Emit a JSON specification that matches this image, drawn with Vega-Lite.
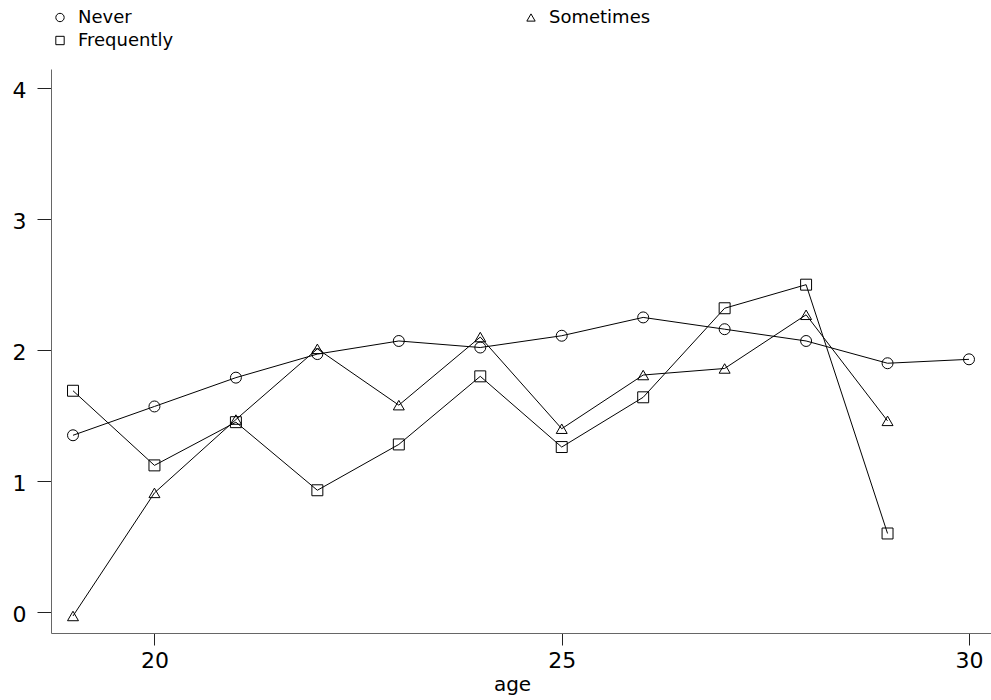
{
  "$schema": "https://vega.github.io/schema/vega-lite/v6.json",
  "width": 940,
  "height": 564,
  "autosize": {"type": "none"},
  "padding": {"left": 51, "top": 69, "right": 0, "bottom": 67},
  "background": "white",
  "config": {"view": {"stroke": null}},
  "data": {
    "values": [
      {"age": 19, "group": "Never", "value": 1.35},
      {"age": 20, "group": "Never", "value": 1.57},
      {"age": 21, "group": "Never", "value": 1.79},
      {"age": 22, "group": "Never", "value": 1.97},
      {"age": 23, "group": "Never", "value": 2.07},
      {"age": 24, "group": "Never", "value": 2.02},
      {"age": 25, "group": "Never", "value": 2.11},
      {"age": 26, "group": "Never", "value": 2.25},
      {"age": 27, "group": "Never", "value": 2.16},
      {"age": 28, "group": "Never", "value": 2.07},
      {"age": 29, "group": "Never", "value": 1.9},
      {"age": 30, "group": "Never", "value": 1.93},
      {"age": 19, "group": "Sometimes", "value": -0.03},
      {"age": 20, "group": "Sometimes", "value": 0.91},
      {"age": 21, "group": "Sometimes", "value": 1.47},
      {"age": 22, "group": "Sometimes", "value": 2.01},
      {"age": 23, "group": "Sometimes", "value": 1.58},
      {"age": 24, "group": "Sometimes", "value": 2.1},
      {"age": 25, "group": "Sometimes", "value": 1.4},
      {"age": 26, "group": "Sometimes", "value": 1.81},
      {"age": 27, "group": "Sometimes", "value": 1.86},
      {"age": 28, "group": "Sometimes", "value": 2.27},
      {"age": 29, "group": "Sometimes", "value": 1.46},
      {"age": 19, "group": "Frequently", "value": 1.69},
      {"age": 20, "group": "Frequently", "value": 1.12},
      {"age": 21, "group": "Frequently", "value": 1.45},
      {"age": 22, "group": "Frequently", "value": 0.93},
      {"age": 23, "group": "Frequently", "value": 1.28},
      {"age": 24, "group": "Frequently", "value": 1.8},
      {"age": 25, "group": "Frequently", "value": 1.26},
      {"age": 26, "group": "Frequently", "value": 1.64},
      {"age": 27, "group": "Frequently", "value": 2.32},
      {"age": 28, "group": "Frequently", "value": 2.5},
      {"age": 29, "group": "Frequently", "value": 0.6}
    ]
  },
  "encoding": {
    "x": {
      "field": "age", "type": "quantitative",
      "scale": {"domain": [18.73, 30.27], "nice": false, "zero": false},
      "axis": {
        "title": "age", "values": [20, 25, 30], "grid": false,
        "tickSize": 12, "tickColor": "#222", "domainColor": "#666",
        "labelFont": "DejaVu Sans", "labelFontSize": 22, "labelColor": "#000",
        "labelPadding": 5, "labelFlush": false,
        "titleFont": "DejaVu Sans", "titleFontSize": 20, "titleFontWeight": "normal",
        "titleColor": "#000", "titleX": 461, "titleY": 57, "titleBaseline": "alphabetic", "titleAlign": "center"
      }
    },
    "y": {
      "field": "value", "type": "quantitative",
      "scale": {"domain": [-0.16, 4.147], "nice": false, "zero": false},
      "axis": {
        "title": null, "values": [0, 1, 2, 3, 4], "grid": false,
        "tickSize": 14, "tickColor": "#222", "domainColor": "#666",
        "labelFont": "DejaVu Sans", "labelFontSize": 22, "labelColor": "#000",
        "labelPadding": 11, "labelOffset": 2, "labelFlush": false
      }
    }
  },
  "layer": [
    {
      "mark": {"type": "line", "color": "black", "strokeWidth": 1},
      "encoding": {"detail": {"field": "group"}}
    },
    {
      "mark": {"type": "point", "filled": false, "color": "black", "strokeWidth": 1, "size": 120, "opacity": 1},
      "encoding": {
        "shape": {
          "field": "group", "type": "nominal",
          "scale": {"domain": ["Never", "Frequently", "Sometimes"], "range": ["circle", "square", "triangle-up"]},
          "legend": {
            "title": null, "orient": "none", "legendX": 0, "legendY": -60.5,
            "columns": 2, "columnPadding": 348, "rowPadding": 5,
            "symbolSize": 70, "symbolStrokeColor": "black", "symbolStrokeWidth": 1, "symbolFillColor": "transparent",
            "labelFont": "DejaVu Sans", "labelFontSize": 18, "labelColor": "#000", "labelOffset": 9
          }
        }
      }
    }
  ]
}
